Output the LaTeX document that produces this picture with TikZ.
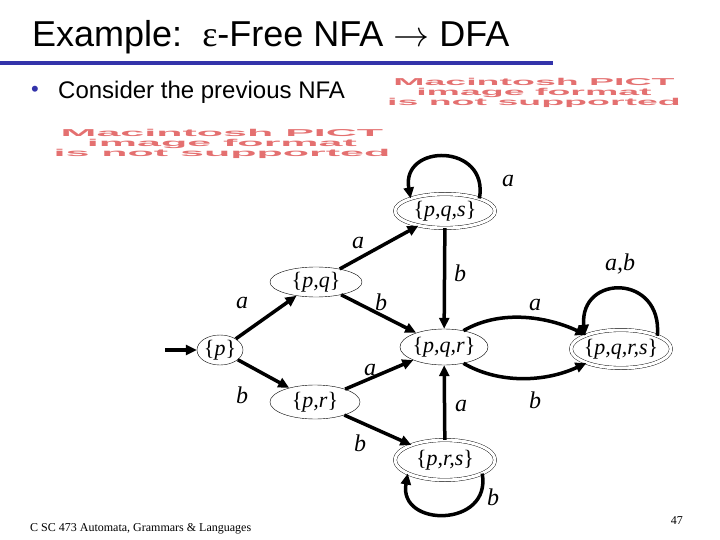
\documentclass[tikz,border=0pt]{standalone}
\usepackage{fix-cm}
\usepackage{fontspec}
\setmainfont{Liberation Serif}
\setsansfont{Liberation Sans}
\usetikzlibrary{arrows.meta,shapes.geometric}
\definecolor{slideblue}{RGB}{51,51,170}
\definecolor{pictred}{RGB}{228,112,112}
\newcommand\stset[1]{\makebox[0pt]{\raisebox{-0.25em}[0pt][0pt]{\{\textit{#1}\}}}}
\tikzset{
  st/.style={draw,ellipse,thin,inner sep=0pt,font=\fontsize{22}{24}\selectfont},
  acc/.style={st,double,double distance=3pt},
  arr/.style={-{Triangle[length=11pt,width=10pt]},line width=3.5pt},
  lbl/.style={font=\fontsize{24}{26}\selectfont\itshape,inner sep=0pt},
  pict/.style={text=pictred,font=\sffamily\bfseries\fontsize{10}{8.8}\selectfont,inner sep=0pt}
}

\begin{document}
\begin{tikzpicture}[x=1pt,y=1pt]
  \useasboundingbox (0,0) rectangle (720,-540);
  % slide header
  \node[anchor=base west,inner sep=0pt,font=\sffamily\fontsize{36}{40}\selectfont] (title) at (32,-47) {Example:\ \ {\rmfamily ε}-Free NFA $\rightarrow$ DFA};
  \draw[slideblue,line width=4pt] (0,-63) -- (553,-63);
  \node[text=slideblue,font=\sffamily\fontsize{22}{24}\selectfont] (dot) at (35,-91) {•};
  \node[anchor=base west,inner sep=0pt,font=\sffamily\fontsize{24}{28}\selectfont] (bullet) at (58,-99) {Consider the previous NFA};
  \node[pict] (pict1) at (534,-93) {\scalebox{3.75}[1]{\begin{tabular}{@{}c@{}}Macintosh PICT\\image format\\is not supported\end{tabular}}};
  \node[pict] (pict2) at (222,-144) {\scalebox{4.3}[1]{\begin{tabular}{@{}c@{}}Macintosh PICT\\image format\\is not supported\end{tabular}}};

  % states
  \node[st,minimum width=46,minimum height=30] (p) at (220,-350) {\stset{p}};
  \node[st,minimum width=92,minimum height=30] (pq) at (316,-282) {\stset{p,q}};
  \node[acc,minimum width=100,minimum height=34] (pqs) at (445,-211) {\stset{p,q,s}};
  \node[st,minimum width=88,minimum height=36] (pqr) at (444,-347) {\stset{p,q,r}};
  \node[acc,minimum width=100,minimum height=38] (pqrs) at (621,-349) {\stset{p,q,r,s}};
  \node[st,minimum width=90,minimum height=34] (pr) at (315,-402) {\stset{p,r}};
  \node[acc,minimum width=100,minimum height=40] (prs) at (445,-460) {\stset{p,r,s}};
  \coordinate (start) at (165,-350);

  % transitions
  \draw[arr] (start) -- (p);
  \foreach \s/\t in {p/pq,p/pr,pq/pqs,pq/pqr,pqs/pqr,pr/pqr,pr/prs,prs/pqr}
    \draw[arr] (\s) -- (\t);
  \draw[arr] (pqs.20) to[out=80,in=100,looseness=2.1] (pqs.160);
  \draw[arr] (prs.-20) to[out=-80,in=-100,looseness=1.9] (prs.-160);
  \draw[arr] (pqrs.20) to[out=85,in=95,looseness=2.2] (pqrs.160);
  \draw[arr] (pqr.40) to[out=30,in=155,looseness=0.9] (pqrs.158);
  \draw[arr] (pqr.-40) to[out=-30,in=-155,looseness=0.9] (pqrs.-158);

  \node[lbl] (l1) at (242,-303) {a};
  \node[lbl] (l2) at (242,-395) {b};
  \node[lbl] (l3) at (358,-243) {a};
  \node[lbl] (l4) at (381,-302) {b};
  \node[lbl] (l5) at (460,-273) {b};
  \node[lbl] (l6) at (508,-181) {a};
  \node[lbl] (l7) at (370,-370) {a};
  \node[lbl] (l8) at (360,-443) {b};
  \node[lbl] (l9) at (461,-406) {a};
  \node[lbl] (l10) at (493,-497) {b};
  \node[lbl] (l11) at (535,-305) {a};
  \node[lbl] (l12) at (535,-400) {b};
  \node[lbl] (l13) at (620,-264) {a,b};

  % footer
  \node[anchor=base west,inner sep=0pt,font=\fontsize{12}{14}\selectfont] (foot) at (30,-531) {C SC 473 Automata, Grammars \& Languages};
  \node[anchor=base east,inner sep=0pt,font=\fontsize{12}{14}\selectfont] (page) at (683,-524) {47};
\end{tikzpicture}
\end{document}
